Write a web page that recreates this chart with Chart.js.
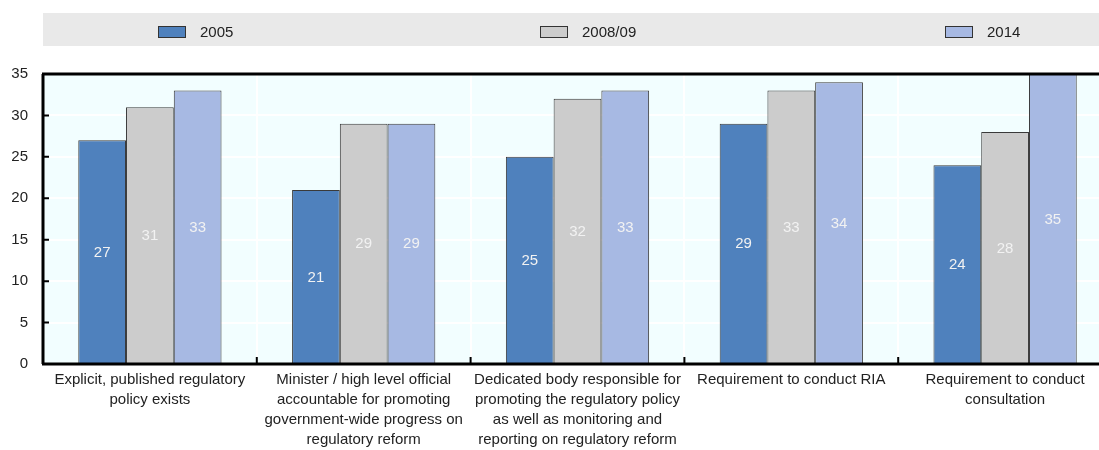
<!DOCTYPE html>
<html><head><meta charset="utf-8">
<script src="https://cdn.jsdelivr.net/npm/chart.js@4/dist/chart.umd.min.js"></script>
<style>html,body{margin:0;padding:0;background:#fff;overflow:hidden;width:1099px;height:450px}#wrap{width:1112px;height:450px}</style>
</head><body><div id="wrap"><canvas id="c" width="1112" height="450"></canvas></div>
<script>
const categories = [
  ["Explicit, published regulatory", "policy exists"],
  ["Minister / high level official", "accountable for promoting", "government-wide progress on", "regulatory reform"],
  ["Dedicated body responsible for", "promoting the regulatory policy", "as well as monitoring and", "reporting on regulatory reform"],
  ["Requirement to conduct RIA"],
  ["Requirement to conduct", "consultation"]
];
const seriesNames = ["2005", "2008/09", "2014"];
const values2005 = [27, 21, 25, 29, 24];
const values2008 = [31, 29, 32, 33, 28];
const values2014 = [33, 29, 33, 34, 35];
const colors = ["#4F81BD", "#CCCCCC", "#A7B9E3"];
const yTicks = [0, 5, 10, 15, 20, 25, 30, 35];

const FONT = "Arial, 'Liberation Sans', sans-serif";

const legendPlugin = {
  id: 'customLegend',
  beforeDraw(chart) {
    const ctx = chart.ctx;
    ctx.save();
    ctx.fillStyle = '#E9E9E9';
    ctx.fillRect(43, 13, 1099 - 43, 33);
    const boxX = [158, 540, 945];
    chart.data.datasets.forEach((ds, i) => {
      ctx.fillStyle = ds.backgroundColor;
      ctx.fillRect(boxX[i], 26, 28, 12);
      ctx.strokeStyle = '#333';
      ctx.lineWidth = 1;
      ctx.strokeRect(boxX[i] + 0.5, 26.5, 27, 11);
      ctx.fillStyle = '#222';
      ctx.font = '15px ' + FONT;
      ctx.textBaseline = 'middle';
      ctx.textAlign = 'left';
      ctx.fillText(ds.label, boxX[i] + 42, 33);
    });
    ctx.restore();
  }
};

const bgPlugin = {
  id: 'plotBg',
  beforeDraw(chart) {
    const {ctx, chartArea: a} = chart;
    ctx.save();
    ctx.fillStyle = '#F2FEFF';
    ctx.fillRect(a.left, a.top, a.right - a.left, a.bottom - a.top);
    ctx.restore();
  },
  afterDraw(chart) {
    const {ctx, chartArea: a, scales} = chart;
    ctx.save();
    ctx.strokeStyle = '#000';
    ctx.lineWidth = 3;
    ctx.beginPath();
    ctx.moveTo(a.left - 1, a.top);
    ctx.lineTo(a.right, a.top);
    ctx.moveTo(a.left, a.top);
    ctx.lineTo(a.left, a.bottom);
    ctx.moveTo(a.left - 1, a.bottom);
    ctx.lineTo(a.right, a.bottom);
    ctx.stroke();
    ctx.lineWidth = 2;
    ctx.beginPath();
    scales.y.ticks.forEach(t => {
      const y = scales.y.getPixelForValue(t.value);
      ctx.moveTo(a.left, y);
      ctx.lineTo(a.left + 6, y);
    });
    const n = chart.data.labels.length;
    for (let i = 1; i < n; i++) {
      const x = (scales.x.getPixelForValue(i - 1) + scales.x.getPixelForValue(i)) / 2;
      ctx.moveTo(x, a.bottom);
      ctx.lineTo(x, a.bottom - 7);
    }
    ctx.stroke();
    ctx.restore();
  },
  afterDatasetsDraw(chart) {
    const ctx = chart.ctx;
    ctx.save();
    ctx.font = '15px ' + FONT;
    ctx.fillStyle = '#F2F2F2';
    ctx.textAlign = 'center';
    ctx.textBaseline = 'middle';
    chart.data.datasets.forEach((ds, di) => {
      chart.getDatasetMeta(di).data.forEach((bar, i) => {
        ctx.fillText(String(ds.data[i]), bar.x, (bar.y + bar.base) / 2 + 1);
      });
    });
    ctx.restore();
  }
};

new Chart(document.getElementById('c'), {
  type: 'bar',
  data: {
    labels: categories,
    datasets: [
      {label: seriesNames[0], data: values2005, backgroundColor: colors[0]},
      {label: seriesNames[1], data: values2008, backgroundColor: colors[1]},
      {label: seriesNames[2], data: values2014, backgroundColor: colors[2]}
    ].map(d => Object.assign(d, {borderColor: '#3a3a3a', borderWidth: 1, categoryPercentage: 0.67, barPercentage: 1.0}))
  },
  options: {
    responsive: false,
    animation: false,
    layout: {padding: {top: 74, right: 0, left: 0, bottom: 0}},
    plugins: {legend: {display: false}, tooltip: {enabled: false}},
    scales: {
      x: {
        offset: true,
        grid: {color: '#FFFFFF', lineWidth: 2, drawTicks: false, offset: true},
        border: {display: false},
        ticks: {font: {size: 15, family: FONT, lineHeight: 1.333}, color: '#222', padding: 6, maxRotation: 0, autoSkip: false},
        afterFit(s) { s.height = 86; }
      },
      y: {
        min: 0, max: 35,
        afterBuildTicks(s) { s.ticks = yTicks.map(v => ({value: v})); },
        grid: {color: '#FFFFFF', lineWidth: 2, drawTicks: false},
        border: {display: false},
        ticks: {font: {size: 15, family: FONT}, color: '#222', padding: 15},
        afterFit(s) { s.width = 43; }
      }
    }
  },
  plugins: [bgPlugin, legendPlugin]
});
</script>
</body></html>
